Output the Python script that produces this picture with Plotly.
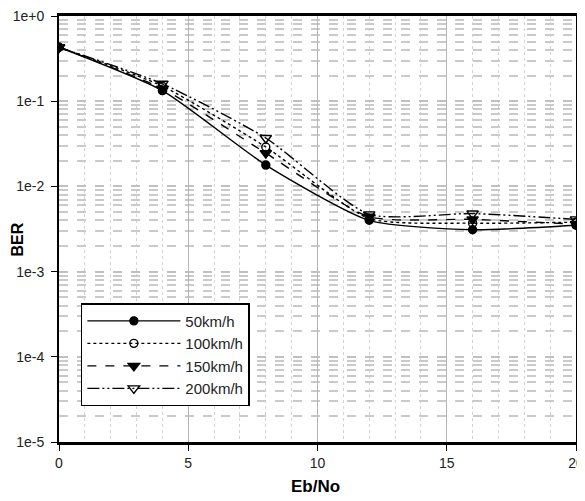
import plotly.graph_objects as go

ebno = [0, 4, 8, 12, 16, 20]
ber_50 = [0.43, 0.133, 0.0178, 0.0040, 0.0031, 0.0035]
ber_100 = [0.43, 0.150, 0.0290, 0.0042, 0.0037, 0.0038]
ber_150 = [0.43, 0.140, 0.0246, 0.0044, 0.0041, 0.0036]
ber_200 = [0.43, 0.160, 0.0370, 0.0047, 0.0048, 0.0041]
names = ["50km/h", "100km/h", "150km/h", "200km/h"]
y_tickvals = [1, 1e-1, 1e-2, 1e-3, 1e-4, 1e-5]
y_ticktext = ["1e+0", "1e-1", "1e-2", "1e-3", "1e-4", "1e-5"]
x_tickvals = [0, 5, 10, 15, 20]

FONT = "Liberation Sans Narrow, Arial Narrow, Liberation Sans, Arial"

styles = [
    dict(dash="solid", symbol="circle", size=8),
    dict(dash="dot", symbol="circle-open", size=8),
    dict(dash="dash", symbol="triangle-down", size=10),
    dict(dash="12px,3px,2px,3px,2px,3px", symbol="triangle-down-open", size=10),
]
series = [ber_50, ber_100, ber_150, ber_200]

fig = go.Figure()
for name, ys, st in zip(names, series, styles):
    fig.add_trace(go.Scatter(
        x=ebno, y=ys, name=name, mode="lines+markers",
        line=dict(color="black", width=1.4, dash=st["dash"], shape="spline",
                  smoothing=0.6),
        marker=dict(symbol=st["symbol"], size=st["size"], color="black",
                    line=dict(color="black", width=1.4)),
    ))

minor_y = [m * 10.0 ** e for e in range(-5, 0) for m in range(2, 10)]

# page has an 8px body margin: figure is drawn 8px right/down
W, H = 577, 493
L, T, R, B = 51, 8, 9, 59

fig.update_layout(
    width=W, height=H,
    margin=dict(l=L, r=R, t=T, b=B, autoexpand=False),
    paper_bgcolor="white", plot_bgcolor="white",
    font=dict(family=FONT, size=14, color="#222"),
    showlegend=True,
    legend=dict(
        x=0.0423, y=0.326, xanchor="left", yanchor="top",
        bordercolor="black", borderwidth=1.5, bgcolor="white",
        font=dict(family=FONT, size=15, color="#222"),
        itemwidth=93, tracegroupgap=0,
    ),
    xaxis=dict(
        range=[0, 20], tickvals=x_tickvals, showline=True, linecolor="black",
        linewidth=2.5, mirror=True, ticks="outside", ticklen=6, tickcolor="black",
        showgrid=True, gridcolor="#b5b5b5", gridwidth=1, zeroline=False,
        automargin=False, ticklabeloverflow="allow",
        minor=dict(tickvals=list(range(1, 20)), showgrid=True,
                   gridcolor="#d3d3d3", griddash="dot", gridwidth=1, ticks=""),
        tickfont=dict(size=14, color="#222"),
    ),
    yaxis=dict(
        type="log", range=[-5, 0], tickvals=y_tickvals, ticktext=y_ticktext,
        showline=True, linecolor="black", linewidth=2, mirror=True,
        ticks="outside", ticklen=6, tickcolor="black",
        showgrid=True, gridcolor="#c0c0c0", gridwidth=2, griddash="dash",
        zeroline=False, automargin=False, ticklabeloverflow="allow",
        ticklabelstandoff=4,
        minor=dict(tickvals=minor_y, showgrid=True, gridcolor="#cacaca",
                   griddash="dash", gridwidth=2, ticks=""),
        tickfont=dict(size=14, color="#222"),
    ),
    annotations=[
        dict(text="<b>BER</b>", textangle=-90, xref="paper", yref="paper",
             x=-0.0808, y=0.476, xanchor="center", yanchor="middle",
             showarrow=False, font=dict(family=FONT, size=16, color="black")),
        dict(text="<b>Eb/No</b>", xref="paper", yref="paper",
             x=0.497, y=-0.1056, xanchor="center", yanchor="middle",
             showarrow=False, font=dict(family=FONT, size=17, color="black")),
    ],
)

fig.write_html("out.html")
